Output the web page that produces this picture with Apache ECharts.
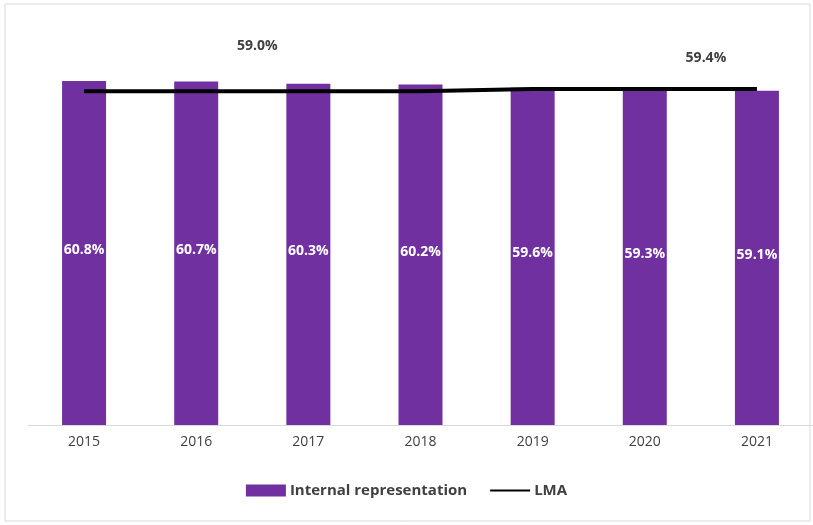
<!DOCTYPE html>
<html>
<head>
<meta charset="utf-8">
<script src="https://cdn.jsdelivr.net/npm/echarts@6/dist/echarts.min.js"></script>
<style>
  html, body { margin: 0; padding: 0; background: #fff; }
  #main { width: 813px; height: 525px; }
</style>
</head>
<body>
<div id="main"></div>
<script>
var dom = document.getElementById("main");
var myChart = echarts.init(dom);

var years = ["2015", "2016", "2017", "2018", "2019", "2020", "2021"];
var internalRep = [60.8, 60.7, 60.3, 60.2, 59.6, 59.3, 59.1];
var lma = [59.0, 59.0, 59.0, 59.0, 59.4, 59.4, 59.4];
// which LMA points carry a label (as in the original)
var lmaLabelled = [false, true, false, false, false, false, true];

var barColor = "#7030a0";
var textColor = "#404040";
var fontName = "'Open Sans', 'Liberation Sans', sans-serif";

var lmaData = lma.map(function (v, i) {
    var item = { value: v };
    if (lmaLabelled[i]) {
        item.label = {
            show: true,
            position: "top",
            offset: i === 1 ? [61, -33] : [-51, -19],
            color: textColor,
            fontSize: 14,
            fontWeight: "bold",
            fontFamily: fontName,
            formatter: function (p) { return p.value.toFixed(1) + "%"; }
        };
    }
    return item;
});

var option = {
    backgroundColor: "#fff",
    animation: false,
    graphic: [{
        type: "rect",
        shape: { x: 5, y: 4, width: 805, height: 517 },
        style: { fill: "none", stroke: "#d9d9d9", lineWidth: 1 },
        silent: true
    }],
    grid: {
        left: 28,
        right: 0,
        top: 29,
        bottom: 100,
        containLabel: false
    },
    legend: {
        bottom: 22,
        left: "center",
        itemGap: 22,
        textStyle: {
            color: textColor,
            fontSize: 15,
            fontWeight: "bold",
            fontFamily: fontName,
            padding: [0, 0, 0, -1]
        },
        data: [
            { name: "Internal representation", icon: "rect", itemStyle: { color: barColor } },
            { name: "LMA", itemStyle: { opacity: 0 } }
        ],
        itemWidth: 40,
        itemHeight: 12
    },
    xAxis: {
        type: "category",
        data: years,
        axisTick: { show: false },
        axisLine: { lineStyle: { color: "#d9d9d9", width: 1 } },
        axisLabel: {
            color: textColor,
            fontSize: 14,
            margin: 10,
            fontFamily: fontName
        }
    },
    yAxis: {
        type: "value",
        min: 0,
        max: 70,
        show: false,
        splitLine: { show: false }
    },
    series: [
        {
            name: "Internal representation",
            type: "bar",
            data: internalRep,
            barWidth: 44,
            itemStyle: { color: barColor },
            label: {
                show: true,
                position: "inside",
                offset: [0, -3],
                color: "#fff",
                fontSize: 14,
                fontWeight: "bold",
                fontFamily: fontName,
                formatter: function (p) { return p.value.toFixed(1) + "%"; }
            }
        },
        {
            name: "LMA",
            type: "line",
            data: lmaData,
            symbol: "circle",
            symbolSize: 0,
            showSymbol: true,
            itemStyle: { color: "#000" },
            lineStyle: { color: "#000", width: 4 },
            z: 5
        }
    ]
};
myChart.setOption(option);
</script>
</body>
</html>
